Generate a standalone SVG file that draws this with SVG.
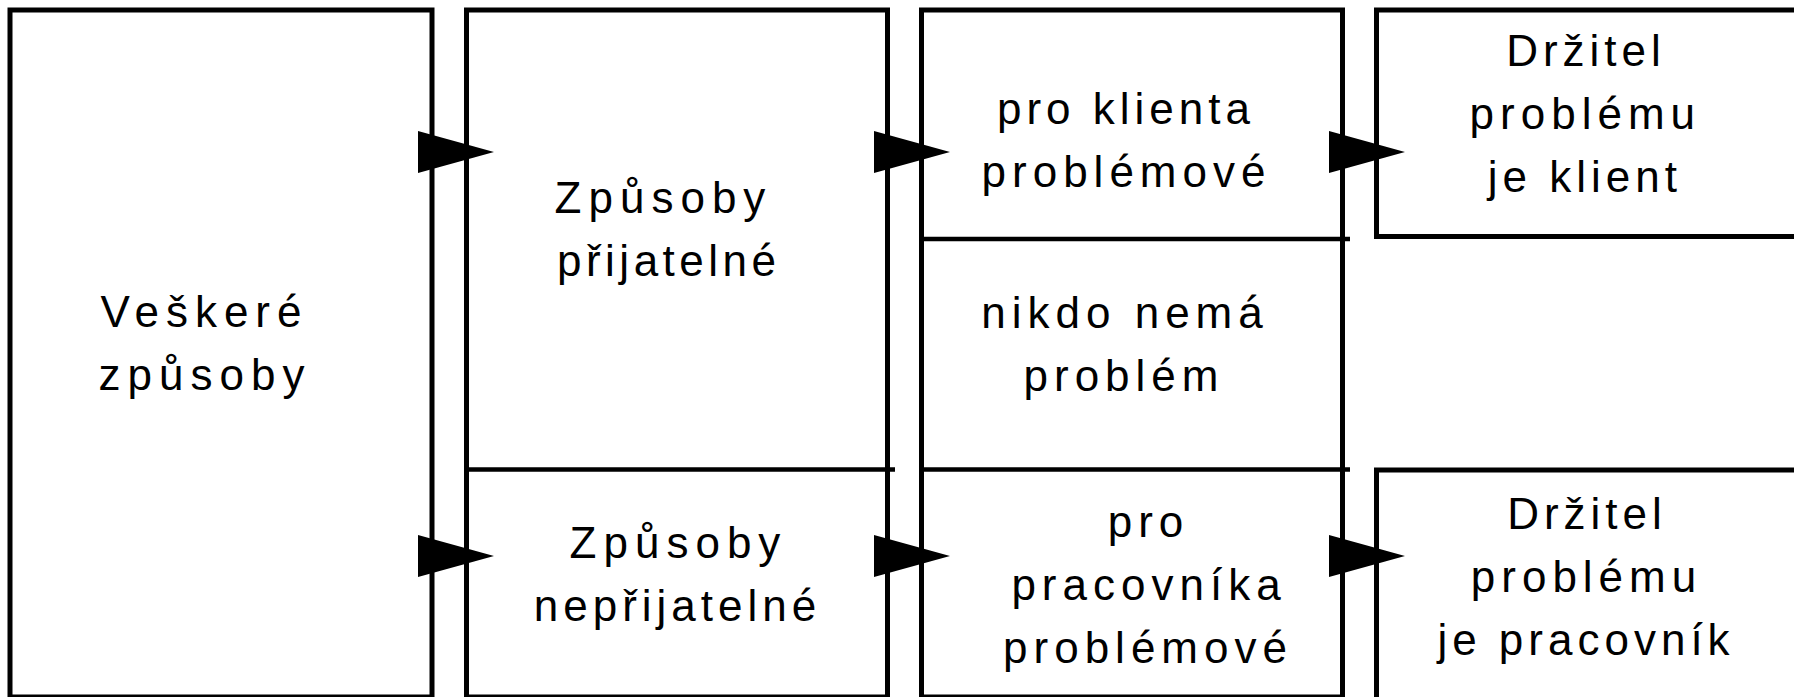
<svg xmlns="http://www.w3.org/2000/svg" width="1794" height="697" viewBox="0 0 1794 697">
<style>
.box{fill:#fff;stroke:#000;stroke-width:5}
.div{stroke:#000;stroke-width:4.5;fill:none}
.arr{fill:#000;stroke:none}
text{font-family:"Liberation Sans",Arial,sans-serif;font-size:44px;letter-spacing:6px;text-anchor:middle;fill:#000}
.w7{letter-spacing:7px}
.w5{letter-spacing:5px}
.w45{letter-spacing:4.5px}
</style>
<rect width="1794" height="697" fill="#fff"/>
<g id="n1">
<rect class="box" x="10" y="10" width="422" height="687"/>
<text class="w7" x="204.5" y="327">Veškeré</text>
<text class="w7" x="205" y="390">způsoby</text>
</g>
<g id="n2">
<rect class="box" x="466.5" y="10" width="421" height="687"/>
<line class="div" x1="466.5" y1="469.5" x2="895" y2="469.5"/>
<text class="w7" x="663.5" y="213">Způsoby</text>
<text class="w45" x="668.75" y="276">přijatelné</text>
</g>
<g id="n3">
<text class="w7" x="678.5" y="558">Způsoby</text>
<text class="w5" x="677.5" y="621">nepřijatelné</text>
</g>
<g id="n4">
<rect class="box" x="921.5" y="10" width="421" height="687"/>
<line class="div" x1="921.5" y1="239" x2="1350" y2="239"/>
<line class="div" x1="921.5" y1="469.5" x2="1350" y2="469.5"/>
<text class="w5" x="1126" y="124">pro klienta</text>
<text x="1126.5" y="187">problémové</text>
</g>
<g id="n5">
<text x="1125" y="328">nikdo nemá</text>
<text x="1124" y="391">problém</text>
</g>
<g id="n6">
<text x="1148.5" y="537">pro</text>
<text x="1149" y="600">pracovníka</text>
<text x="1148" y="663">problémové</text>
</g>
<g id="n7">
<rect class="box" x="1376.5" y="10" width="430" height="226.5"/>
<text class="w5" x="1586" y="66">Držitel</text>
<text x="1585.3" y="129">problému</text>
<text class="w5" x="1584.8" y="192">je klient</text>
</g>
<g id="n8">
<rect class="box" x="1376.5" y="470" width="430" height="240"/>
<text class="w5" x="1587" y="529">Držitel</text>
<text x="1586.5" y="592">problému</text>
<text class="w5" x="1586" y="655">je pracovník</text>
</g>
<g id="connectors">
<polygon class="arr" points="418,131 494,152 418,173"/>
<polygon class="arr" points="418,535 494,556 418,577"/>
<polygon class="arr" points="874,131 950,152 874,173"/>
<polygon class="arr" points="874,535 950,556 874,577"/>
<polygon class="arr" points="1329,131 1405,152 1329,173"/>
<polygon class="arr" points="1329,535 1405,556 1329,577"/>
</g>
</svg>
